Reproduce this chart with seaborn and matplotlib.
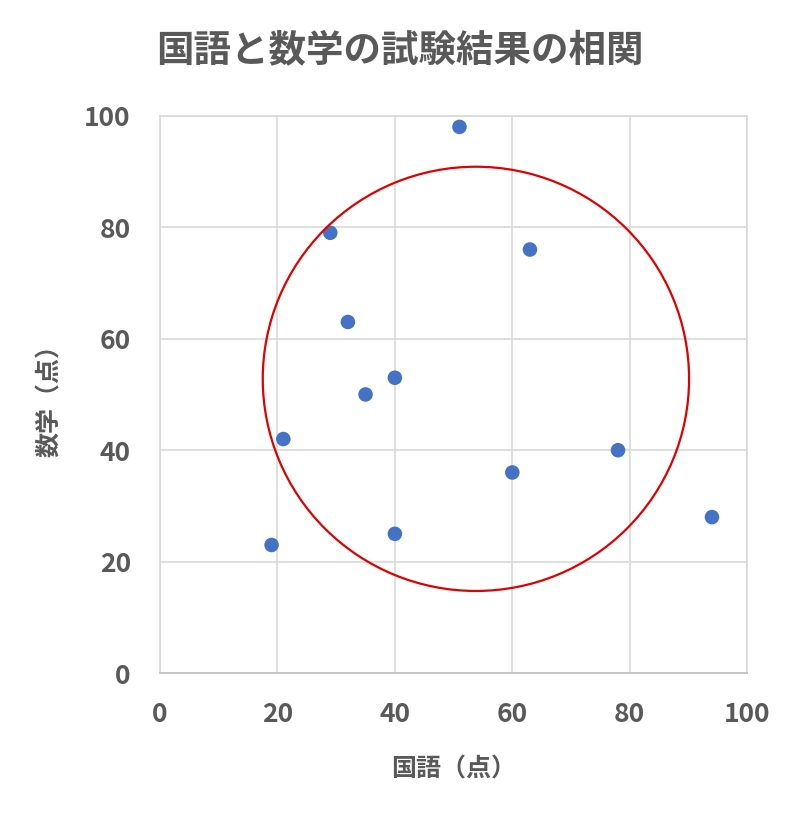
import pandas as pd
import matplotlib
matplotlib.use("Agg")
import matplotlib.pyplot as plt
import seaborn as sns
from matplotlib.patches import Ellipse

# データ
kokugo = [51, 29, 63, 32, 40, 35, 21, 78, 60, 94, 19, 40]
sugaku = [98, 79, 76, 63, 53, 50, 42, 40, 36, 28, 23, 25]

# 丸で囲む範囲（データ座標）
circle_center = (53.8, 52.8)
circle_w = 72.6
circle_h = 76.1

df = pd.DataFrame({"国語": kokugo, "数学": sugaku})

sns.set_style("white")
plt.rcParams['font.family'] = ['Noto Sans CJK JP', 'DejaVu Sans']
grey = "#595959"

fig = plt.figure(figsize=(8, 8.15), dpi=100)
ax = fig.add_axes([0.2, 0.174, 0.734, 0.684])

sns.scatterplot(data=df, x="国語", y="数学", ax=ax, color="#4472C4",
                s=110, edgecolor="none", zorder=3)

ax.add_patch(Ellipse(circle_center, circle_w, circle_h, fill=False,
                     edgecolor="#E00000", linewidth=1.6, zorder=4))

ax.set_xlim(0, 100)
ax.set_ylim(0, 100)
ax.set_xticks(range(0, 101, 20))
ax.set_yticks(range(0, 101, 20))
ax.grid(True, color="#D9D9D9", linewidth=1.2)
ax.set_axisbelow(True)
for sp in ax.spines.values():
    sp.set_color("#D9D9D9")
    sp.set_linewidth(1.2)
ax.spines["bottom"].set_color("#BFBFBF")

ax.tick_params(length=0, labelsize=19, labelcolor=grey)
ax.tick_params(axis="x", pad=20)
ax.tick_params(axis="y", pad=21)
for lab in ax.get_xticklabels() + ax.get_yticklabels():
    lab.set_fontweight("bold")

ax.set_xlabel("国語（点）", fontsize=18, color=grey, fontweight="bold", labelpad=21)
ax.set_ylabel("数学（点）", fontsize=18, color=grey, fontweight="bold", labelpad=16)
fig.suptitle("国語と数学の試験結果の相関", fontsize=27, color=grey,
             fontweight="bold", y=0.962)

fig.savefig("out.png", dpi=100)
